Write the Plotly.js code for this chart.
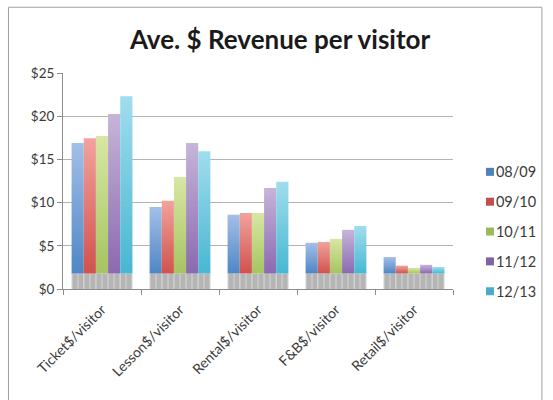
<!DOCTYPE html>
<html>
<head>
<meta charset="utf-8">
<script src="https://cdn.plot.ly/plotly-3.0.1.min.js"></script>
<style>
html,body{margin:0;padding:0;background:#fff;}
#chart{width:553px;height:400px;}
</style>
</head>
<body>
<div id="chart"></div>
<script>
// ---- data ----
var categories = ["Ticket$/visitor", "Lesson$/visitor", "Rental$/visitor", "F&B$/visitor", "Retail$/visitor"];
var seasons = ["08/09", "09/10", "10/11", "11/12", "12/13"];
var s0809 = [16.9, 9.5, 8.6, 5.35, 3.7];
var s0910 = [17.45, 10.2, 8.8, 5.45, 2.7];
var s1011 = [17.7, 12.95, 8.8, 5.8, 2.45];
var s1112 = [20.25, 16.9, 11.7, 6.85, 2.8];
var s1213 = [22.3, 15.95, 12.4, 7.3, 2.55];
var yTickVals = [0, 5, 10, 15, 20, 25];
var yTickText = ["$0", "$5", "$10", "$15", "$20", "$25"];

// ---- styles ----
var FLOOR = 1.8; // height of the 3D-style floor band
var baseColors = ["#4F81BD", "#C0504D", "#9BBB59", "#8064A2", "#4BACC6"];
var topColors  = ["#a3bfe7", "#f3a29d", "#d8e7a4", "#c6b5d9", "#a0dded"];
var botColors  = ["#4f86c6", "#d0524e", "#a6c462", "#8b69b0", "#48b7d2"];
var series = [s0809, s0910, s1011, s1112, s1213];
var FONT = "Lato, 'Open Sans', sans-serif";

var traces = [];
// floor band under each bar
series.forEach(function (vals, k) {
  traces.push({
    type: "bar", x: categories, y: vals.map(function(){ return FLOOR; }), base: 0,
    offsetgroup: String(k), showlegend: false, hoverinfo: "skip",
    marker: { color: "#bbbbbb", line: { width: 0 },
      pattern: { shape: "|", fgcolor: "#d0d0d0", bgcolor: "#b5b5b5", size: 6, solidity: 0.2 } }
  });
});
series.forEach(function (vals, k) {
  traces.push({
    type: "bar", name: seasons[k], x: categories,
    y: vals.map(function (v) { return v - FLOOR; }), base: FLOOR,
    customdata: vals, hovertemplate: "%{x}: $%{customdata}<extra>" + seasons[k] + "</extra>",
    offsetgroup: String(k), legendgroup: "g" + k,
    marker: { color: baseColors[k], line: { width: 0 } }
  });
});

// paper-coordinate conversion for the frame (plot area 63..460 x, 72.5..289.3 y)
function px2paperX(px) { return (px - 63) / 397; }
function px2paperY(py) { return (289.3 - py) / 216.8; }

var layout = {
  width: 553, height: 400,
  margin: { l: 63, r: 93, t: 72.5, b: 110.7, pad: 0 },
  paper_bgcolor: "#ffffff", plot_bgcolor: "#ffffff",
  font: { family: FONT, color: "#404040", size: 13 },
  title: { text: "<b>Ave. $ Revenue per visitor</b>", font: { family: FONT, size: 26, color: "#1a1a1a" },
           x: 280 / 553, xref: "container", xanchor: "center", y: 1 - 40 / 400, yanchor: "middle", yref: "container" },
  barmode: "group", bargap: 0.22, bargroupgap: 0,
  xaxis: { type: "category", tickangle: -45, ticks: "outside", ticklen: 5, tickcolor: "#8c8c8c",
           tickson: "boundaries", showline: true, linecolor: "#8c8c8c", linewidth: 1, ticklabelstandoff: 6,
           showgrid: false, tickfont: { size: 14, color: "#3a3a3a", family: FONT }, fixedrange: true },
  yaxis: { range: [0, 25], tickvals: yTickVals, ticktext: yTickText, ticks: "outside", ticklen: 5,
           tickcolor: "#8c8c8c", showline: true, linecolor: "#8c8c8c", linewidth: 1,
           showgrid: true, gridcolor: "#b3b3b3", gridwidth: 1, zeroline: false,
           tickfont: { size: 13.5, color: "#3a3a3a", family: FONT }, fixedrange: true },
  legend: { x: px2paperX(462), xanchor: "left", y: px2paperY(232), yanchor: "middle",
            font: { size: 14.5, color: "#3a3a3a", family: FONT }, traceorder: "grouped",
            tracegroupgap: 8, bgcolor: "rgba(0,0,0,0)" },
  shapes: [
    { type: "rect", xref: "paper", yref: "paper",
      x0: px2paperX(7.5), x1: px2paperX(550.5), y0: px2paperY(405), y1: px2paperY(6.5),
      line: { color: "#a0a0a0", width: 1 }, fillcolor: "rgba(0,0,0,0)", layer: "below" }
  ],
  showlegend: true
};

Plotly.newPlot("chart", traces, layout, { staticPlot: true, displayModeBar: false }).then(function (gd) {
  // gradient fills like the original spreadsheet chart
  var svg = gd.querySelector(".main-svg");
  var ns = "http://www.w3.org/2000/svg";
  var defs = svg.querySelector("defs") || svg.insertBefore(document.createElementNS(ns, "defs"), svg.firstChild);
  baseColors.forEach(function (c, k) {
    var g = document.createElementNS(ns, "linearGradient");
    g.setAttribute("id", "barGrad" + k);
    g.setAttribute("x1", "0"); g.setAttribute("y1", "0"); g.setAttribute("x2", "0"); g.setAttribute("y2", "1");
    var s1 = document.createElementNS(ns, "stop"); s1.setAttribute("offset", "0"); s1.setAttribute("stop-color", topColors[k]);
    var s2 = document.createElementNS(ns, "stop"); s2.setAttribute("offset", "1"); s2.setAttribute("stop-color", botColors[k]);
    g.appendChild(s1); g.appendChild(s2); defs.appendChild(g);
  });
  var barTraces = gd.querySelectorAll(".barlayer .trace");
  barTraces.forEach(function (t, idx) {
    if (idx >= series.length) {
      var k = idx - series.length;
      t.querySelectorAll(".point path").forEach(function (p) { p.style.fill = "url(#barGrad" + k + ")"; });
    }
  });
  // smaller legend squares close to the labels
  gd.querySelectorAll(".legend .traces .legendpoints path").forEach(function (p) {
    p.setAttribute("d", "M18,4H10V-4H18Z");
    p.style.stroke = "none";
  });
  var leg = gd.querySelector(".legend");
  if (leg) {
    // no clipping of the legend labels
    leg.removeAttribute("clip-path");
    leg.querySelectorAll("[clip-path]").forEach(function (el) { el.removeAttribute("clip-path"); });
    var tr = leg.getAttribute("transform") || "";
    var m = /translate\(\s*([-\d.]+)[ ,]+([-\d.]+)\s*\)/.exec(tr);
    if (m) leg.setAttribute("transform", "translate(" + (parseFloat(m[1]) + 1) + "," + m[2] + ")");
  }
});
</script>
</body>
</html>
